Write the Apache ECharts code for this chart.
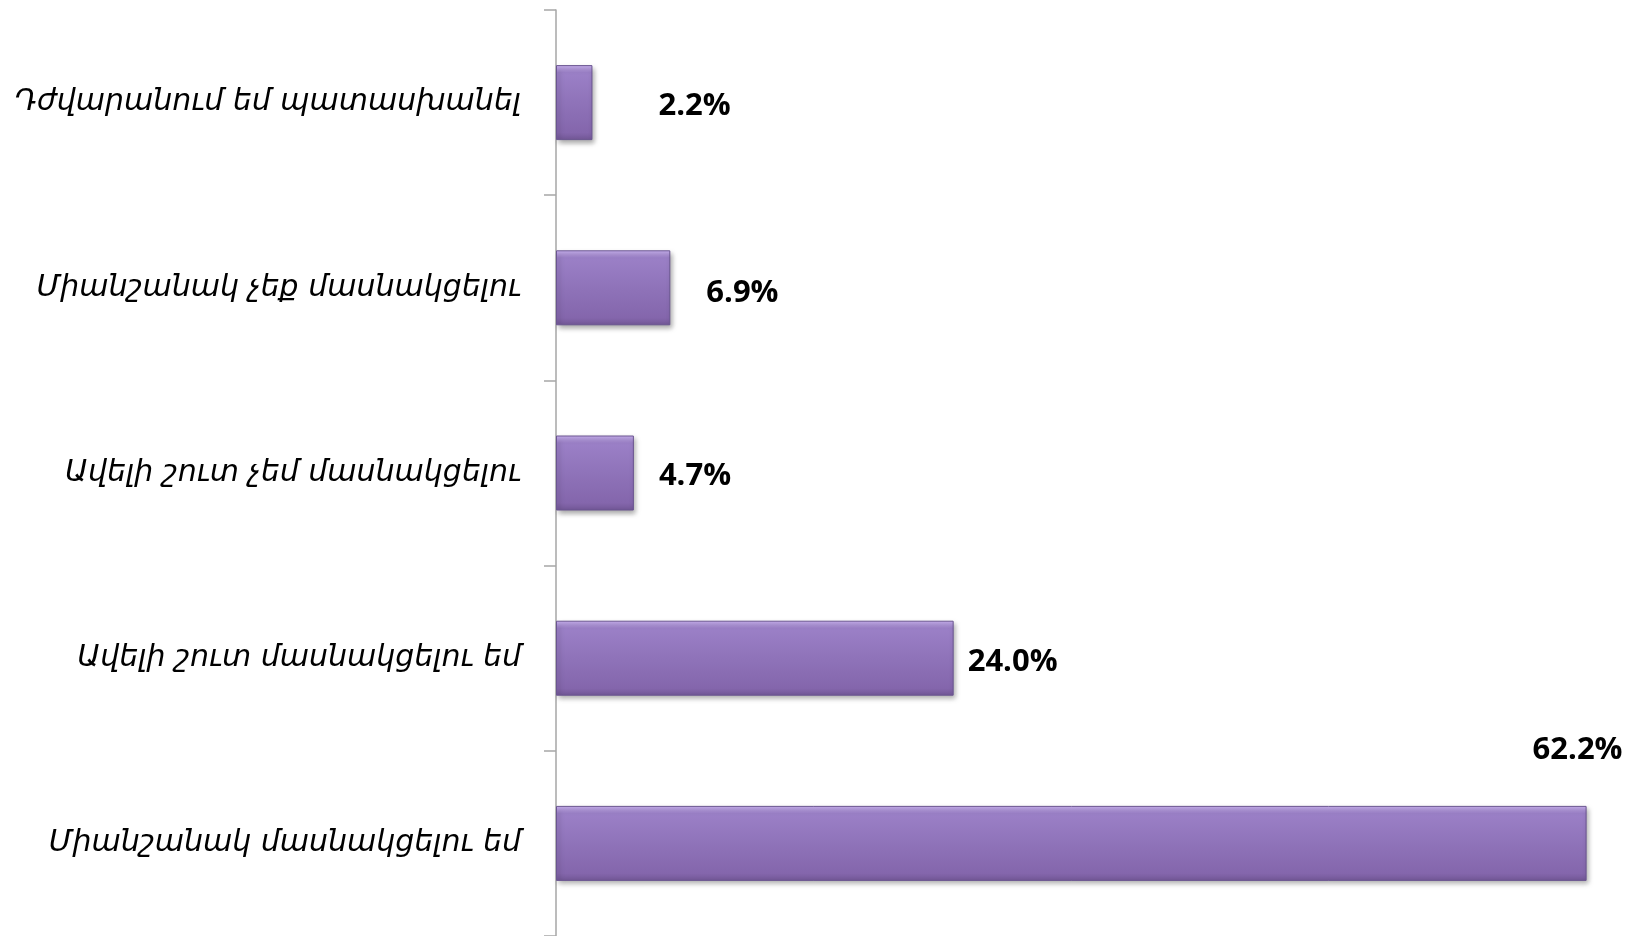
<!DOCTYPE html>
<html>
<head>
<meta charset="utf-8">
<script src="https://cdn.jsdelivr.net/npm/echarts@6/dist/echarts.min.js"></script>
<style>
    html, body { margin: 0; padding: 0; background: #fff; }
    #chart { width: 1633px; height: 936px; }
</style>
</head>
<body>
<div id="chart"></div>
<script>
// categories, top to bottom
let categories = [
    "Դժվարանում եմ պատասխանել",
    "Միանշանակ չեք մասնակցելու",
    "Ավելի շուտ չեմ մասնակցելու",
    "Ավելի շուտ մասնակցելու եմ",
    "Միանշանակ մասնակցելու եմ",
];
let values = [2.2, 6.9, 4.7, 24.0, 62.2];

// label placement as in the original (gap from bar end, vertical shift)
let labelGap = [66, 36, 25, 14, -54];
let labelShift = [4, 5, 3, 4, -93];

let barColor = new echarts.graphic.LinearGradient(0, 0, 0, 1, [
    {offset: 0, color: "#cbb3f2"},
    {offset: 0.1, color: "#9b80c7"},
    {offset: 0.5, color: "#8f73b9"},
    {offset: 0.9, color: "#8466ac"},
    {offset: 1, color: "#725796"},
]);

let options = {
    animation: false,
    grid: {
        left: 556,
        right: 0,
        top: 10,
        bottom: 0,
    },
    xAxis: {
        type: "value",
        min: 0,
        max: 65,
        show: false,
    },
    yAxis: {
        type: "category",
        inverse: true,
        data: categories,
        axisLine: {
            show: true,
            lineStyle: {color: "#a6a6a6", width: 1.5},
        },
        axisTick: {
            show: true,
            length: 12,
            lineStyle: {color: "#a6a6a6", width: 1.5},
        },
        axisLabel: {
            margin: 35,
            color: "#000",
            fontFamily: "DejaVu Sans",
            fontStyle: "italic",
            fontSize: 30,
            padding: [8, 0, 0, 0],
        },
    },
    series: [{
        type: "bar",
        barWidth: 75,
        data: values.map((v, i) => ({
            value: v,
            label: {offset: [labelGap[i] - 5, labelShift[i]]},
        })),
        itemStyle: {
            color: barColor,
            borderColor: "#6a5590",
            borderWidth: 1,
            shadowColor: "rgba(0,0,0,0.35)",
            shadowBlur: 5,
            shadowOffsetX: 2,
            shadowOffsetY: 3,
        },
        label: {
            show: true,
            position: "right",
            distance: 5,
            color: "#000",
            fontFamily: "Open Sans",
            fontWeight: "bold",
            fontSize: 31,
            formatter: p => p.value.toFixed(1) + "%",
        },
    }],
};

let chart = echarts.init(document.querySelector("#chart"));
chart.setOption(options);
</script>
</body>
</html>
